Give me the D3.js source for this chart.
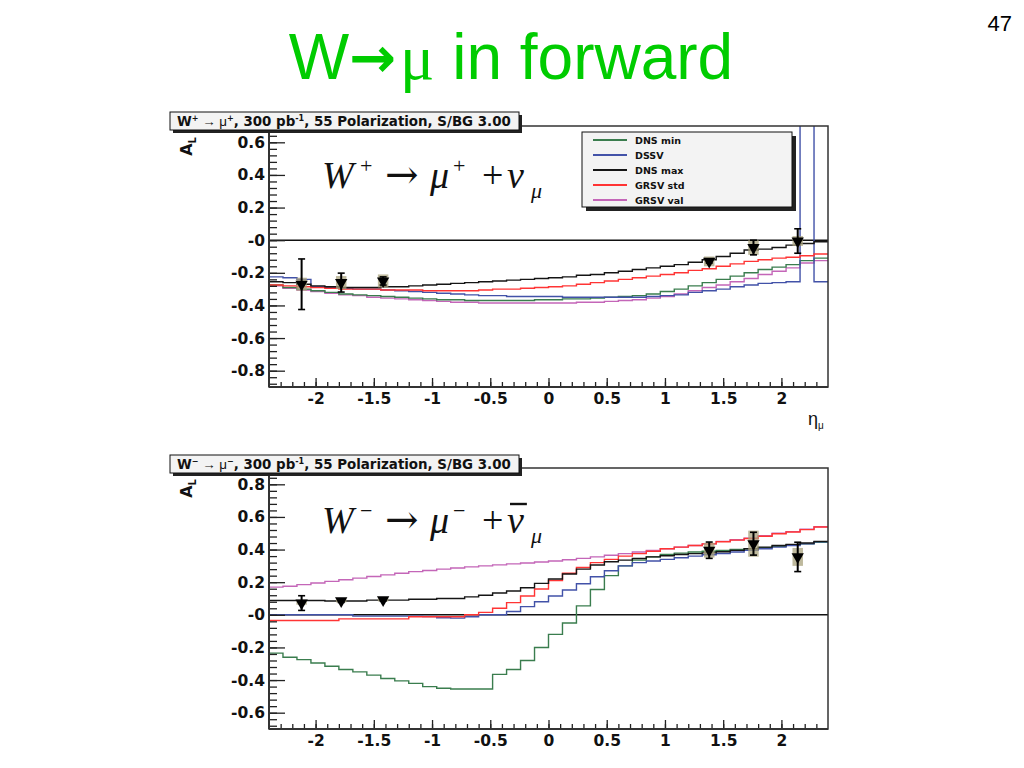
<!DOCTYPE html>
<html><head><meta charset="utf-8">
<script src="https://cdn.jsdelivr.net/npm/d3@7/dist/d3.min.js"></script>
<style>body{margin:0;background:#fff}svg{display:block}</style>
</head><body>
<svg id="c" width="1024" height="768"></svg>
<script>
// ---------------- data ----------------
const binLowEdges = [-2.4,-2.28,-2.16,-2.04,-1.92,-1.8,-1.68,-1.56,-1.44,-1.32,-1.2,-1.08,-0.96,-0.84,-0.72,-0.6,-0.48,-0.36,-0.24,-0.12,0,0.12,0.24,0.36,0.48,0.6,0.72,0.84,0.96,1.08,1.2,1.32,1.44,1.56,1.68,1.8,1.92,2.04,2.16,2.28];
const binHighEdge = 2.4;
const seriesNames = ["DNS min","DSSV","DNS max","GRSV std","GRSV val"];

// W+ panel
const wpDnsMin = [-0.275,-0.29,-0.3,-0.31,-0.32,-0.33,-0.335,-0.34,-0.345,-0.35,-0.355,-0.36,-0.365,-0.365,-0.37,-0.37,-0.37,-0.37,-0.37,-0.365,-0.365,-0.36,-0.36,-0.355,-0.35,-0.345,-0.34,-0.33,-0.315,-0.3,-0.28,-0.26,-0.24,-0.22,-0.2,-0.18,-0.165,-0.15,-0.125,-0.11];
const wpDssv = [-0.225,-0.23,-0.24,-0.285,-0.29,-0.295,-0.3,-0.3,-0.305,-0.31,-0.315,-0.32,-0.325,-0.33,-0.335,-0.34,-0.34,-0.345,-0.345,-0.345,-0.345,-0.35,-0.35,-0.35,-0.35,-0.35,-0.35,-0.345,-0.34,-0.335,-0.32,-0.31,-0.3,-0.285,-0.275,-0.265,-0.26,-0.255,1.2,-0.255];
const wpDnsMax = [-0.255,-0.26,-0.27,-0.28,-0.285,-0.29,-0.29,-0.29,-0.285,-0.285,-0.28,-0.275,-0.27,-0.265,-0.26,-0.255,-0.25,-0.245,-0.24,-0.235,-0.23,-0.225,-0.215,-0.21,-0.2,-0.19,-0.18,-0.17,-0.16,-0.15,-0.135,-0.12,-0.1,-0.08,-0.06,-0.055,-0.045,-0.03,-0.02,-0.01];
const wpGrsvStd = [-0.275,-0.28,-0.285,-0.29,-0.295,-0.3,-0.3,-0.3,-0.305,-0.305,-0.305,-0.31,-0.31,-0.31,-0.31,-0.305,-0.3,-0.3,-0.295,-0.29,-0.285,-0.28,-0.27,-0.26,-0.25,-0.24,-0.23,-0.22,-0.21,-0.2,-0.185,-0.175,-0.16,-0.145,-0.13,-0.12,-0.11,-0.105,-0.095,-0.085];
const wpGrsvVal = [-0.28,-0.295,-0.305,-0.315,-0.325,-0.335,-0.34,-0.35,-0.355,-0.36,-0.365,-0.37,-0.375,-0.38,-0.38,-0.385,-0.385,-0.385,-0.385,-0.385,-0.385,-0.385,-0.38,-0.38,-0.375,-0.37,-0.365,-0.355,-0.345,-0.33,-0.31,-0.29,-0.275,-0.255,-0.235,-0.21,-0.19,-0.17,-0.14,-0.125];

// W- panel
const wmDnsMin = [-0.235,-0.26,-0.275,-0.295,-0.315,-0.335,-0.35,-0.37,-0.39,-0.405,-0.42,-0.44,-0.45,-0.455,-0.455,-0.455,-0.365,-0.335,-0.28,-0.2,-0.12,-0.05,0.055,0.155,0.24,0.3,0.335,0.355,0.37,0.378,0.385,0.39,0.395,0.4,0.405,0.412,0.42,0.428,0.435,0.445];
const wmDssv = [0,0,0,0,0,0,-0.008,-0.008,-0.008,-0.008,-0.008,-0.01,-0.018,-0.02,-0.012,0,0,0.02,0.05,0.08,0.115,0.152,0.19,0.233,0.27,0.3,0.32,0.33,0.34,0.35,0.36,0.368,0.376,0.385,0.395,0.405,0.415,0.425,0.435,0.448];
const wmDnsMax = [0.088,0.088,0.088,0.088,0.085,0.085,0.085,0.09,0.09,0.09,0.095,0.095,0.1,0.1,0.11,0.12,0.134,0.146,0.166,0.193,0.22,0.25,0.28,0.305,0.325,0.335,0.345,0.355,0.362,0.37,0.375,0.38,0.387,0.395,0.405,0.415,0.425,0.432,0.44,0.45];
const wmGrsvStd = [-0.035,-0.035,-0.035,-0.035,-0.035,-0.025,-0.025,-0.025,-0.025,-0.025,-0.012,-0.012,-0.012,-0.012,0,0.015,0.04,0.075,0.115,0.158,0.21,0.255,0.29,0.32,0.34,0.36,0.375,0.39,0.405,0.415,0.425,0.435,0.448,0.458,0.468,0.482,0.497,0.508,0.522,0.538];
const wmGrsvVal = [0.17,0.175,0.185,0.195,0.205,0.215,0.225,0.235,0.245,0.255,0.265,0.272,0.28,0.287,0.294,0.3,0.306,0.312,0.318,0.324,0.33,0.338,0.346,0.355,0.365,0.375,0.385,0.395,0.405,0.415,0.425,0.435,0.45,0.46,0.47,0.485,0.5,0.51,0.525,0.54];

// projected data points
const ptEta  = [-2.12,-1.78,-1.42,1.38,1.76,2.14];
const wpVal  = [-0.27,-0.26,-0.25,-0.13,-0.045,-0.005];
const wpStat = [0.155,0.058,0.025,0.01,0.045,0.075];
const wpSys  = [0.04,0.04,0.04,0.03,0.045,0.03];
const wmVal  = [0.072,0.086,0.092,0.396,0.436,0.355];
const wmStat = [0.045,0.01,0.008,0.05,0.07,0.09];
const wmSys  = [0.01,0.01,0.01,0.045,0.08,0.055];

const xTickLabels = ["-2","-1.5","-1","-0.5","0","0.5","1","1.5","2"];
const wpYTickLabels = ["0.6","0.4","0.2","-0","-0.2","-0.4","-0.6","-0.8"];
const wmYTickLabels = ["0.8","0.6","0.4","0.2","-0","-0.2","-0.4","-0.6"];

// ---------------- style ----------------
const colors = {"DNS min":"#3a7d4e","DSSV":"#4252a8","DNS max":"#151515","GRSV std":"#ff3434","GRSV val":"#c466b8"};
const drawOrder = ["GRSV val","DNS min","DSSV","GRSV std","DNS max"];
const AX = "'Liberation Sans', Arial, sans-serif";
const RB = "'DejaVu Sans', Verdana, sans-serif";
const SERIF = "'Liberation Serif', 'Times New Roman', serif";

const svg = d3.select("#c");
svg.append("rect").attr("width",1024).attr("height",768).attr("fill","#fff");

// slide title
const title = svg.append("text").attr("x",511).attr("y",79).attr("text-anchor","middle").attr("fill","#00cc00")
  .attr("font-family",AX).attr("font-size",64);
title.append("tspan").text("W");
title.append("tspan").attr("font-family",RB).attr("font-weight","bold").attr("font-size",56).attr("dy",-2).text("→");
title.append("tspan").attr("font-family",SERIF).attr("dy",2).attr("dx",4).text("μ");
title.append("tspan").text(" in forward");
svg.append("text").attr("x",1012).attr("y",31).attr("text-anchor","end").attr("font-family",AX).attr("font-size",22).text("47");

const x = d3.scaleLinear().domain([-2.4, 2.4]).range([269, 828]);

function drawPanel(cfg) {
  const y = d3.scaleLinear().domain(cfg.yDomain).range([cfg.bottom, cfg.top]);
  const g = svg.append("g");
  const clipId = "clip" + cfg.id;
  g.append("clipPath").attr("id", clipId).append("rect")
    .attr("x", x.range()[0]).attr("y", cfg.top).attr("width", x.range()[1]-x.range()[0]).attr("height", cfg.bottom-cfg.top);
  const plot = g.append("g").attr("clip-path", `url(#${clipId})`);

  // zero line
  plot.append("line").attr("x1",x(-2.4)).attr("x2",x(2.4)).attr("y1",y(0)).attr("y2",y(0))
    .attr("stroke","#111").attr("stroke-width",1.4);

  // histograms
  const line = d3.line().curve(d3.curveStepAfter).x(d=>x(d[0])).y(d=>y(d[1]));
  drawOrder.forEach(name => {
    const vals = cfg.series[name];
    const pts = binLowEdges.map((e,i)=>[e, vals[i]]);
    pts.push([binHighEdge, vals[vals.length-1]]);
    plot.append("path").attr("d", line(pts)).attr("fill","none")
      .attr("stroke", colors[name]).attr("stroke-width",1.4);
  });

  // systematic boxes
  plot.selectAll("rect.sys").data(ptEta).enter().append("rect")
    .attr("x", d=>x(d-0.045)).attr("width", d=>x(d+0.045)-x(d-0.045))
    .attr("y", (d,i)=>y(cfg.val[i]+cfg.sys[i])).attr("height",(d,i)=>y(cfg.val[i]-cfg.sys[i])-y(cfg.val[i]+cfg.sys[i]))
    .attr("fill","#a8a27c").attr("opacity",0.75);
  // error bars + markers
  ptEta.forEach((e,i)=>{
    const cx = x(e), y1 = y(cfg.val[i]+cfg.stat[i]), y2 = y(cfg.val[i]-cfg.stat[i]);
    plot.append("line").attr("x1",cx).attr("x2",cx).attr("y1",y1).attr("y2",y2).attr("stroke","#000").attr("stroke-width",2);
    [y1,y2].forEach(yy=>plot.append("line").attr("x1",cx-3.5).attr("x2",cx+3.5).attr("y1",yy).attr("y2",yy).attr("stroke","#000").attr("stroke-width",1.6));
    plot.append("path").attr("d", d3.symbol(d3.symbolTriangle, 66)())
      .attr("transform",`translate(${cx},${y(cfg.val[i])}) rotate(180)`).attr("fill","#000");
  });

  // frame
  g.append("rect").attr("x",x.range()[0]).attr("y",cfg.top).attr("width",x.range()[1]-x.range()[0]).attr("height",cfg.bottom-cfg.top)
    .attr("fill","none").attr("stroke","#333").attr("stroke-width",1.5);

  // y axis
  const yMinor = d3.range(Math.ceil(cfg.yDomain[0]/0.04-1e-6), Math.floor(cfg.yDomain[1]/0.04+1e-6)+1).map(k=>+(k*0.04).toFixed(3));
  const yAxisMinor = g.append("g").attr("transform",`translate(${x.range()[0]},0)`)
    .call(d3.axisLeft(y).tickValues(yMinor).tickSizeInner(-8).tickSizeOuter(0).tickFormat(""));
  const yAxis = g.append("g").attr("transform",`translate(${x.range()[0]},0)`)
    .call(d3.axisLeft(y).tickValues(cfg.yMajor).tickSizeInner(-16).tickSizeOuter(0).tickPadding(4)
      .tickFormat((d,i)=>cfg.yLabels[i]));
  // x axis
  const xMajor = [-2,-1.5,-1,-0.5,0,0.5,1,1.5,2];
  const xMinor = d3.range(-23, 24).map(k=>+(k*0.1).toFixed(2));
  const xAxisMinor = g.append("g").attr("transform",`translate(0,${cfg.bottom})`)
    .call(d3.axisBottom(x).tickValues(xMinor).tickSizeInner(-5).tickSizeOuter(0).tickFormat(""));
  const xAxis = g.append("g").attr("transform",`translate(0,${cfg.bottom})`)
    .call(d3.axisBottom(x).tickValues(xMajor).tickSizeInner(-9).tickSizeOuter(0).tickPadding(6)
      .tickFormat((d,i)=>xTickLabels[i]));
  [yAxisMinor,yAxis,xAxisMinor,xAxis].forEach(a=>{
    a.select(".domain").remove();
    a.selectAll("line").attr("stroke","#222").attr("stroke-width",1.3);
    a.selectAll("text").attr("font-family",RB).attr("font-weight","bold").attr("font-size",15.5).attr("fill","#111");
  });
  g.append("line").attr("x1",x.range()[0]).attr("x2",x.range()[1]).attr("y1",cfg.bottom).attr("y2",cfg.bottom).attr("stroke","#333").attr("stroke-width",2);
  g.append("line").attr("x1",x.range()[0]).attr("x2",x.range()[0]).attr("y1",cfg.top).attr("y2",cfg.bottom).attr("stroke","#333").attr("stroke-width",2);

  // y title A_L
  const yt = g.append("text").attr("transform",`translate(192,${cfg.top+11}) rotate(-90)`).attr("text-anchor","end")
    .attr("font-family",RB).attr("font-weight","bold").attr("font-size",16).attr("fill","#111");
  yt.append("tspan").text("A");
  yt.append("tspan").attr("font-size",10).attr("dy",4).text("L");

  // formula (typeset piece by piece)
  const fx = 322;
  const f = g.append("text").attr("y",cfg.formulaY).attr("font-family",SERIF).attr("font-size",38).attr("fill","#111");
  f.append("tspan").attr("x",fx).attr("font-style","italic").text("W");
  f.append("tspan").attr("x",fx+38).attr("font-size",22).attr("dy",-15).text(cfg.sign);
  f.append("tspan").attr("x",fx+63).attr("dy",15).attr("font-family","'DejaVu Serif', serif").attr("font-size",40).text("→");
  f.append("tspan").attr("x",fx+108).attr("font-style","italic").text("μ");
  f.append("tspan").attr("x",fx+131).attr("font-size",22).attr("dy",-15).text(cfg.sign);
  f.append("tspan").attr("x",fx+160).attr("dy",15).text("+");
  const nu = f.append("tspan").attr("x",fx+185).attr("font-style","italic").text("ν");
  f.append("tspan").attr("x",fx+209).attr("font-style","italic").attr("font-size",22).attr("dy",10).text("μ");
  if (cfg.bar) {
    const ext = nu.node().getExtentOfChar(0);
    g.append("line").attr("x1",ext.x+3).attr("x2",ext.x+ext.width+3).attr("y1",ext.y+5).attr("y2",ext.y+5).attr("stroke","#111").attr("stroke-width",2.4);
  }

  // pave title box
  g.append("rect").attr("x",173).attr("y",cfg.boxY+3).attr("width",349).attr("height",18).attr("fill","#222");
  g.append("rect").attr("x",170).attr("y",cfg.boxY).attr("width",349).attr("height",18).attr("fill","#f3f3f3").attr("stroke","#111").attr("stroke-width",1);
  const tt = g.append("text").attr("x",177).attr("y",cfg.boxY+14).attr("font-family",RB).attr("font-weight","bold").attr("font-size",13.4).attr("fill","#111");
  tt.append("tspan").text("W");
  tt.append("tspan").attr("font-size",8).attr("dy",-5).text(cfg.sign);
  tt.append("tspan").attr("dy",5).attr("font-weight","normal").attr("font-family",AX).text(" → μ");
  tt.append("tspan").attr("font-size",8).attr("dy",-5).text(cfg.sign);
  tt.append("tspan").attr("dy",5).text(",  300 pb");
  tt.append("tspan").attr("font-size",8).attr("dy",-5).text("-1");
  tt.append("tspan").attr("dy",5).text(", 55 Polarization, S/BG 3.00");

  if (cfg.legend) {
    const lx = 582, ly = 132, lw = 210, lh = 75;
    g.append("rect").attr("x",lx+4).attr("y",ly+4).attr("width",lw).attr("height",lh).attr("fill","#222");
    g.append("rect").attr("x",lx).attr("y",ly).attr("width",lw).attr("height",lh).attr("fill","#f3f3f3").attr("stroke","#111");
    seriesNames.forEach((n,i)=>{
      const yy = ly + 8 + i*15;
      g.append("line").attr("x1",lx+11).attr("x2",lx+45).attr("y1",yy).attr("y2",yy).attr("stroke",colors[n]).attr("stroke-width",1.8);
      g.append("text").attr("x",lx+53).attr("y",yy+3.5).attr("font-family",RB).attr("font-weight","bold").attr("font-size",9.5).attr("fill","#111").text(n);
    });
  }
  if (cfg.xTitle) {
    const xt = g.append("text").attr("x",808).attr("y",cfg.bottom+38).attr("font-family",AX).attr("font-size",18).attr("fill","#111");
    xt.append("tspan").text("η");
    xt.append("tspan").attr("font-size",10).attr("dy",4).text("μ");
  }
}

drawPanel({id:"p", top:126, bottom:387, yDomain:[-0.9,0.7], yMajor:[0.6,0.4,0.2,0,-0.2,-0.4,-0.6,-0.8], yLabels:wpYTickLabels,
  series:{"DNS min":wpDnsMin,"DSSV":wpDssv,"DNS max":wpDnsMax,"GRSV std":wpGrsvStd,"GRSV val":wpGrsvVal},
  val:wpVal, stat:wpStat, sys:wpSys, sign:"+", bar:false, formulaY:188, boxY:112, legend:true, xTitle:true});
drawPanel({id:"m", top:468, bottom:729, yDomain:[-0.7,0.9], yMajor:[0.8,0.6,0.4,0.2,0,-0.2,-0.4,-0.6], yLabels:wmYTickLabels,
  series:{"DNS min":wmDnsMin,"DSSV":wmDssv,"DNS max":wmDnsMax,"GRSV std":wmGrsvStd,"GRSV val":wmGrsvVal},
  val:wmVal, stat:wmStat, sys:wmSys, sign:"−", bar:true, formulaY:533, boxY:455, legend:false, xTitle:false});
</script>
</body></html>
